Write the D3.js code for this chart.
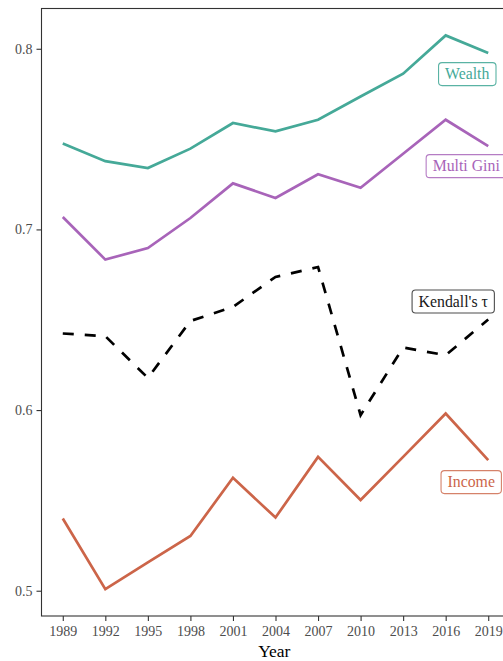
<!DOCTYPE html>
<html>
<head>
<meta charset="utf-8">
<script src="https://cdn.jsdelivr.net/npm/d3@7"></script>
<style>
  html, body { margin: 0; padding: 0; background: #fff; }
  svg { display: block; }
  svg text { font-family: "Liberation Serif", "DejaVu Serif", serif; }
</style>
</head>
<body>
<svg id="chart" width="503" height="661"></svg>
<script>
// Survey years on the x axis
const years = [1989, 1992, 1995, 1998, 2001, 2004, 2007, 2010, 2013, 2016, 2019];

// Inequality measures per survey year
const wealth    = [0.7475, 0.7378, 0.7340, 0.7447, 0.7589, 0.7543, 0.7607, 0.7736, 0.7862, 0.8074, 0.7976];
const multiGini = [0.7069, 0.6833, 0.6897, 0.7063, 0.7255, 0.7174, 0.7305, 0.7231, 0.7419, 0.7607, 0.7461];
const kendall   = [0.6424, 0.6409, 0.6178, 0.6493, 0.6571, 0.6737, 0.6792, 0.5972, 0.6346, 0.6304, 0.6501];
const income    = [0.5400, 0.5009, 0.5157, 0.5303, 0.5625, 0.5405, 0.5741, 0.5502, 0.5741, 0.5981, 0.5723];

const seriesNames = ["Wealth", "Multi Gini", "Kendall's τ", "Income"];
const yTicks = [0.5, 0.6, 0.7, 0.8];

const seriesValues = [wealth, multiGini, kendall, income];
const seriesStyle = [
  { color: "#45a998", text: "#45a998", border: "#5ab3a4", dash: null, dx: -21, dy: 21 },
  { color: "#a864b9", text: "#a864b9", border: "#b57cc4", dash: null, dx: -22, dy: 20 },
  { color: "#000000", text: "#1a1a1a", border: "#4d4d4d", dash: "11,11", dx: -35, dy: -18 },
  { color: "#cc6549", text: "#cc6549", border: "#d5826a", dash: null, dx: -17, dy: 22 }
];

const serif = "'Liberation Serif', 'DejaVu Serif', serif";
const svg = d3.select("#chart");

// Panel box; its right side runs past the visible area
const panel = { left: 41.5, top: 8.5, right: 509.5, bottom: 616 };

const x = d3.scaleLinear()
  .domain([1987.5, 2020.5])
  .range([panel.left, panel.right]);

const y = d3.scaleLinear()
  .domain([0.48601, 0.82229])
  .range([panel.bottom, panel.top]);

// Panel border
svg.append("rect")
  .attr("x", panel.left).attr("y", panel.top)
  .attr("width", panel.right - panel.left)
  .attr("height", panel.bottom - panel.top)
  .attr("fill", "none")
  .attr("stroke", "#333333")
  .attr("stroke-width", 1.1);

// Axes
const xAxis = d3.axisBottom(x)
  .tickValues(years)
  .tickFormat(d3.format("d"))
  .tickSize(5)
  .tickPadding(5);

const yAxis = d3.axisLeft(y)
  .tickValues(yTicks)
  .tickFormat(d3.format(".1f"))
  .tickSize(5)
  .tickPadding(4);

const gx = svg.append("g")
  .attr("transform", `translate(0,${panel.bottom})`)
  .call(xAxis);
const gy = svg.append("g")
  .attr("transform", `translate(${panel.left},0)`)
  .call(yAxis);

[gx, gy].forEach(g => {
  g.attr("font-family", serif);
  g.select(".domain").remove();
  g.selectAll(".tick line").attr("stroke", "#333333").attr("stroke-width", 1.1);
  g.selectAll(".tick text")
    .attr("fill", "#4d4d4d")
    .style("font-family", serif)
    .style("font-size", "14px");
});

// Axis title
svg.append("text")
  .attr("x", (panel.left + 503) / 2 + 2)
  .attr("y", 657)
  .attr("text-anchor", "middle")
  .attr("fill", "#000")
  .style("font-family", serif)
  .style("font-size", "17.5px")
  .text("Year");

// Series lines
const line = d3.line()
  .x((d, i) => x(years[i]))
  .y(d => y(d));

seriesValues.forEach((vals, k) => {
  const s = seriesStyle[k];
  svg.append("path")
    .datum(vals)
    .attr("d", line)
    .attr("fill", "none")
    .attr("stroke", s.color)
    .attr("stroke-width", 2.7)
    .attr("stroke-linejoin", "miter")
    .attr("stroke-dasharray", s.dash);
});

// End labels in rounded boxes near the last point
seriesValues.forEach((vals, k) => {
  const s = seriesStyle[k];
  const last = vals.length - 1;
  const cx = x(years[last]) + s.dx;
  const cy = y(vals[last]) + s.dy;
  const g = svg.append("g");
  const t = g.append("text")
    .attr("x", cx)
    .attr("y", cy + 5.3)
    .attr("text-anchor", "middle")
    .attr("fill", s.text)
    .style("font-family", serif)
    .style("font-size", "15.8px")
    .text(seriesNames[k]);
  const bb = t.node().getBBox();
  const padX = 6.5, h = 23;
  g.insert("rect", "text")
    .attr("x", bb.x - padX)
    .attr("y", cy - h / 2)
    .attr("width", bb.width + 2 * padX)
    .attr("height", h)
    .attr("rx", 3.5)
    .attr("fill", "#ffffff")
    .attr("stroke", s.border)
    .attr("stroke-width", 1.1);
});
</script>
</body>
</html>
